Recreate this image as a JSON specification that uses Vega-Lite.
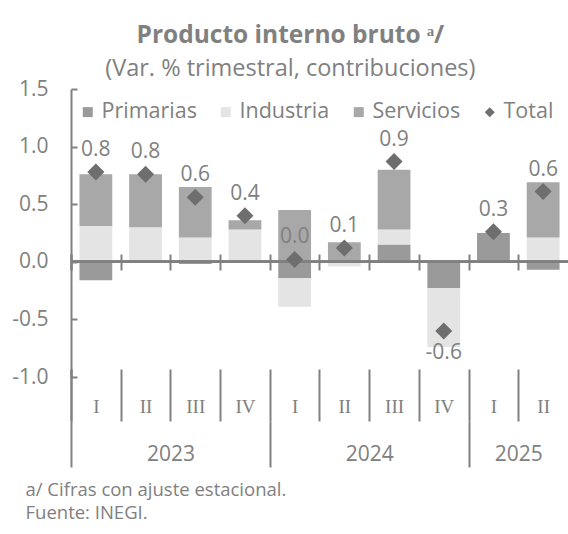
{
  "$schema": "https://vega.github.io/schema/vega-lite/v6.json",
  "width": 497,
  "height": 288,
  "autosize": {"type": "none"},
  "padding": {"left": 71, "top": 89, "right": 0, "bottom": 157},
  "background": "white",
  "title": {
    "text": "Producto interno bruto ᵃ/",
    "subtitle": "(Var. % trimestral, contribuciones)",
    "frame": "bounds",
    "font": "Open Sans",
    "fontSize": 24.5,
    "fontWeight": "bold",
    "color": "#808080",
    "subtitleFont": "Open Sans",
    "subtitleFontSize": 23.5,
    "subtitleColor": "#808080",
    "subtitlePadding": 8,
    "anchor": "middle",
    "offset": -3
  },
  "config": {"view": {"stroke": null}, "font": "Open Sans"},
  "datasets": {
    "contrib": [
      {"periodo": "2023-I", "serie": "Primarias", "orden": 1, "valor": -0.16},
      {"periodo": "2023-I", "serie": "Industria", "orden": 2, "valor": 0.31},
      {"periodo": "2023-I", "serie": "Servicios", "orden": 3, "valor": 0.45},
      {"periodo": "2023-II", "serie": "Primarias", "orden": 1, "valor": 0.0},
      {"periodo": "2023-II", "serie": "Industria", "orden": 2, "valor": 0.30},
      {"periodo": "2023-II", "serie": "Servicios", "orden": 3, "valor": 0.46},
      {"periodo": "2023-III", "serie": "Primarias", "orden": 1, "valor": -0.02},
      {"periodo": "2023-III", "serie": "Industria", "orden": 2, "valor": 0.21},
      {"periodo": "2023-III", "serie": "Servicios", "orden": 3, "valor": 0.44},
      {"periodo": "2023-IV", "serie": "Primarias", "orden": 1, "valor": 0.0},
      {"periodo": "2023-IV", "serie": "Industria", "orden": 2, "valor": 0.28},
      {"periodo": "2023-IV", "serie": "Servicios", "orden": 3, "valor": 0.08},
      {"periodo": "2024-I", "serie": "Primarias", "orden": 1, "valor": -0.14},
      {"periodo": "2024-I", "serie": "Industria", "orden": 2, "valor": -0.25},
      {"periodo": "2024-I", "serie": "Servicios", "orden": 3, "valor": 0.45},
      {"periodo": "2024-II", "serie": "Primarias", "orden": 1, "valor": 0.0},
      {"periodo": "2024-II", "serie": "Industria", "orden": 2, "valor": -0.04},
      {"periodo": "2024-II", "serie": "Servicios", "orden": 3, "valor": 0.17},
      {"periodo": "2024-III", "serie": "Primarias", "orden": 1, "valor": 0.15},
      {"periodo": "2024-III", "serie": "Industria", "orden": 2, "valor": 0.13},
      {"periodo": "2024-III", "serie": "Servicios", "orden": 3, "valor": 0.52},
      {"periodo": "2024-IV", "serie": "Primarias", "orden": 1, "valor": -0.23},
      {"periodo": "2024-IV", "serie": "Industria", "orden": 2, "valor": -0.51},
      {"periodo": "2024-IV", "serie": "Servicios", "orden": 3, "valor": 0.0},
      {"periodo": "2025-I", "serie": "Primarias", "orden": 1, "valor": 0.25},
      {"periodo": "2025-I", "serie": "Industria", "orden": 2, "valor": 0.0},
      {"periodo": "2025-I", "serie": "Servicios", "orden": 3, "valor": 0.0},
      {"periodo": "2025-II", "serie": "Primarias", "orden": 1, "valor": -0.07},
      {"periodo": "2025-II", "serie": "Industria", "orden": 2, "valor": 0.21},
      {"periodo": "2025-II", "serie": "Servicios", "orden": 3, "valor": 0.48}
    ],
    "total": [
      {"periodo": "2023-I", "serie": "Total", "valor": 0.78},
      {"periodo": "2023-II", "serie": "Total", "valor": 0.76},
      {"periodo": "2023-III", "serie": "Total", "valor": 0.56},
      {"periodo": "2023-IV", "serie": "Total", "valor": 0.40},
      {"periodo": "2024-I", "serie": "Total", "valor": 0.02},
      {"periodo": "2024-II", "serie": "Total", "valor": 0.12},
      {"periodo": "2024-III", "serie": "Total", "valor": 0.87},
      {"periodo": "2024-IV", "serie": "Total", "valor": -0.60},
      {"periodo": "2025-I", "serie": "Total", "valor": 0.26},
      {"periodo": "2025-II", "serie": "Total", "valor": 0.61}
    ]
  },
  "layer": [
    {
      "data": {"name": "contrib"},
      "mark": {"type": "bar"},
      "encoding": {
        "x": {
          "field": "periodo", "type": "nominal", "sort": null,
          "scale": {"paddingInner": 0.34, "paddingOuter": 0.17},
          "axis": {
            "orient": "bottom", "offset": -8, "title": null, "domain": false,
            "bandPosition": 0, "tickOffset": -8.45, "tickExtra": true,
            "tickSize": 52, "tickColor": "#808080", "tickWidth": 2,
            "labelExpr": "split(datum.value, '-')[1]",
            "labelFont": "Liberation Serif", "labelFontSize": 19, "labelColor": "#808080",
            "labelOffset": 8.45,
            "labelPadding": -24, "labelAngle": 0, "labelBaseline": "top"
          }
        },
        "y": {
          "field": "valor", "type": "quantitative", "stack": "zero",
          "scale": {"domain": [-1, 1.5], "nice": false, "zero": false},
          "axis": {
            "values": [-1, -0.5, 0, 0.5, 1, 1.5], "format": ".1f", "grid": false, "title": null,
            "labelExpr": "replace(datum.label, '−', '-')",
            "domainColor": "#808080", "domainWidth": 2,
            "tickColor": "#808080", "tickSize": -6, "tickWidth": 2,
            "labelPadding": 29, "labelFont": "Open Sans", "labelFontSize": 21, "labelColor": "#808080"
          }
        },
        "order": {"field": "orden", "type": "quantitative"},
        "color": {
          "field": "serie", "type": "nominal",
          "scale": {"domain": ["Primarias", "Industria", "Servicios", "Total"], "range": ["#9a9a9a", "#e4e4e4", "#a8a8a8", "#6e6e6e"]},
          "legend": {
            "orient": "none", "legendX": 6, "legendY": 12, "direction": "horizontal", "title": null,
            "labelFont": "Open Sans", "labelFontSize": 21.5, "labelColor": "#808080",
            "symbolSize": 100, "symbolStrokeWidth": 0, "columnPadding": 18, "labelOffset": 3
          }
        }
      }
    },
    {
      "data": {"name": "total"},
      "mark": {"type": "rule", "color": "#808080", "strokeWidth": 2},
      "encoding": {"y": {"datum": 0}}
    },
    {
      "data": {"name": "total"},
      "mark": {"type": "point", "filled": true, "size": 290, "opacity": 1},
      "encoding": {
        "x": {
          "field": "periodo", "type": "nominal", "sort": null,
          "axis": {
            "orient": "bottom", "offset": -123, "title": null, "domain": false, "labels": false,
            "bandPosition": 0, "tickOffset": -8.45, "tickExtra": true,
            "tickSize": 16, "tickColor": "#808080", "tickWidth": 2
          }
        },
        "y": {"field": "valor", "type": "quantitative"},
        "color": {"field": "serie", "type": "nominal"},
        "shape": {
          "field": "serie", "type": "nominal",
          "scale": {"domain": ["Primarias", "Industria", "Servicios", "Total"], "range": ["square", "square", "square", "diamond"]},
          "legend": {
            "orient": "none", "legendX": 6, "legendY": 12, "direction": "horizontal", "title": null,
            "labelFont": "Open Sans", "labelFontSize": 21.5, "labelColor": "#808080",
            "symbolSize": 100, "symbolStrokeWidth": 0, "columnPadding": 18, "labelOffset": 3
          }
        }
      }
    },
    {
      "data": {"name": "total"},
      "transform": [{"filter": "datum.valor >= 0"}],
      "mark": {"type": "text", "dy": -22, "font": "Open Sans", "fontSize": 21, "color": "#808080",
               "text": {"expr": "replace(format(datum.valor, '.1f'), '−', '-')"}},
      "encoding": {
        "x": {
          "field": "periodo", "type": "nominal", "sort": null,
          "axis": {
            "orient": "bottom", "offset": 44, "domain": false,
            "title": ["a/ Cifras con ajuste estacional.", "Fuente: INEGI."],
            "titleFont": "Open Sans", "titleFontSize": 18.5, "titleFontWeight": "normal", "titleColor": "#808080",
            "titleAnchor": "start", "titleAlign": "left", "titleBaseline": "top",
            "titleX": -46, "titleY": 59, "titleLineHeight": 23,
            "bandPosition": 0, "tickOffset": -8.45,
            "tickSize": 46, "tickWidth": 2, "tickColor": "#808080",
            "tickOpacity": {"condition": {"test": "datum.value == '2023-I' || datum.value == '2024-I' || datum.value == '2025-I'", "value": 1}, "value": 0},
            "labelExpr": "datum.value == '2023-II' ? '2023' : datum.value == '2024-II' ? '2024' : datum.value == '2025-I' ? '2025' : ''",
            "labelOffset": 33.3, "labelFont": "Open Sans", "labelFontSize": 21, "labelColor": "#808080",
            "labelPadding": -24, "labelBaseline": "top", "labelAngle": 0
          }
        },
        "y": {"field": "valor", "type": "quantitative"}
      }
    },
    {
      "data": {"name": "total"},
      "transform": [{"filter": "datum.valor < 0"}],
      "mark": {"type": "text", "dy": 22, "font": "Open Sans", "fontSize": 21, "color": "#808080",
               "text": {"expr": "replace(format(datum.valor, '.1f'), '−', '-')"}},
      "encoding": {
        "x": {"field": "periodo", "type": "nominal", "sort": null, "axis": null},
        "y": {"field": "valor", "type": "quantitative"}
      }
    }
  ],
  "resolve": {"axis": {"x": "independent"}}
}
